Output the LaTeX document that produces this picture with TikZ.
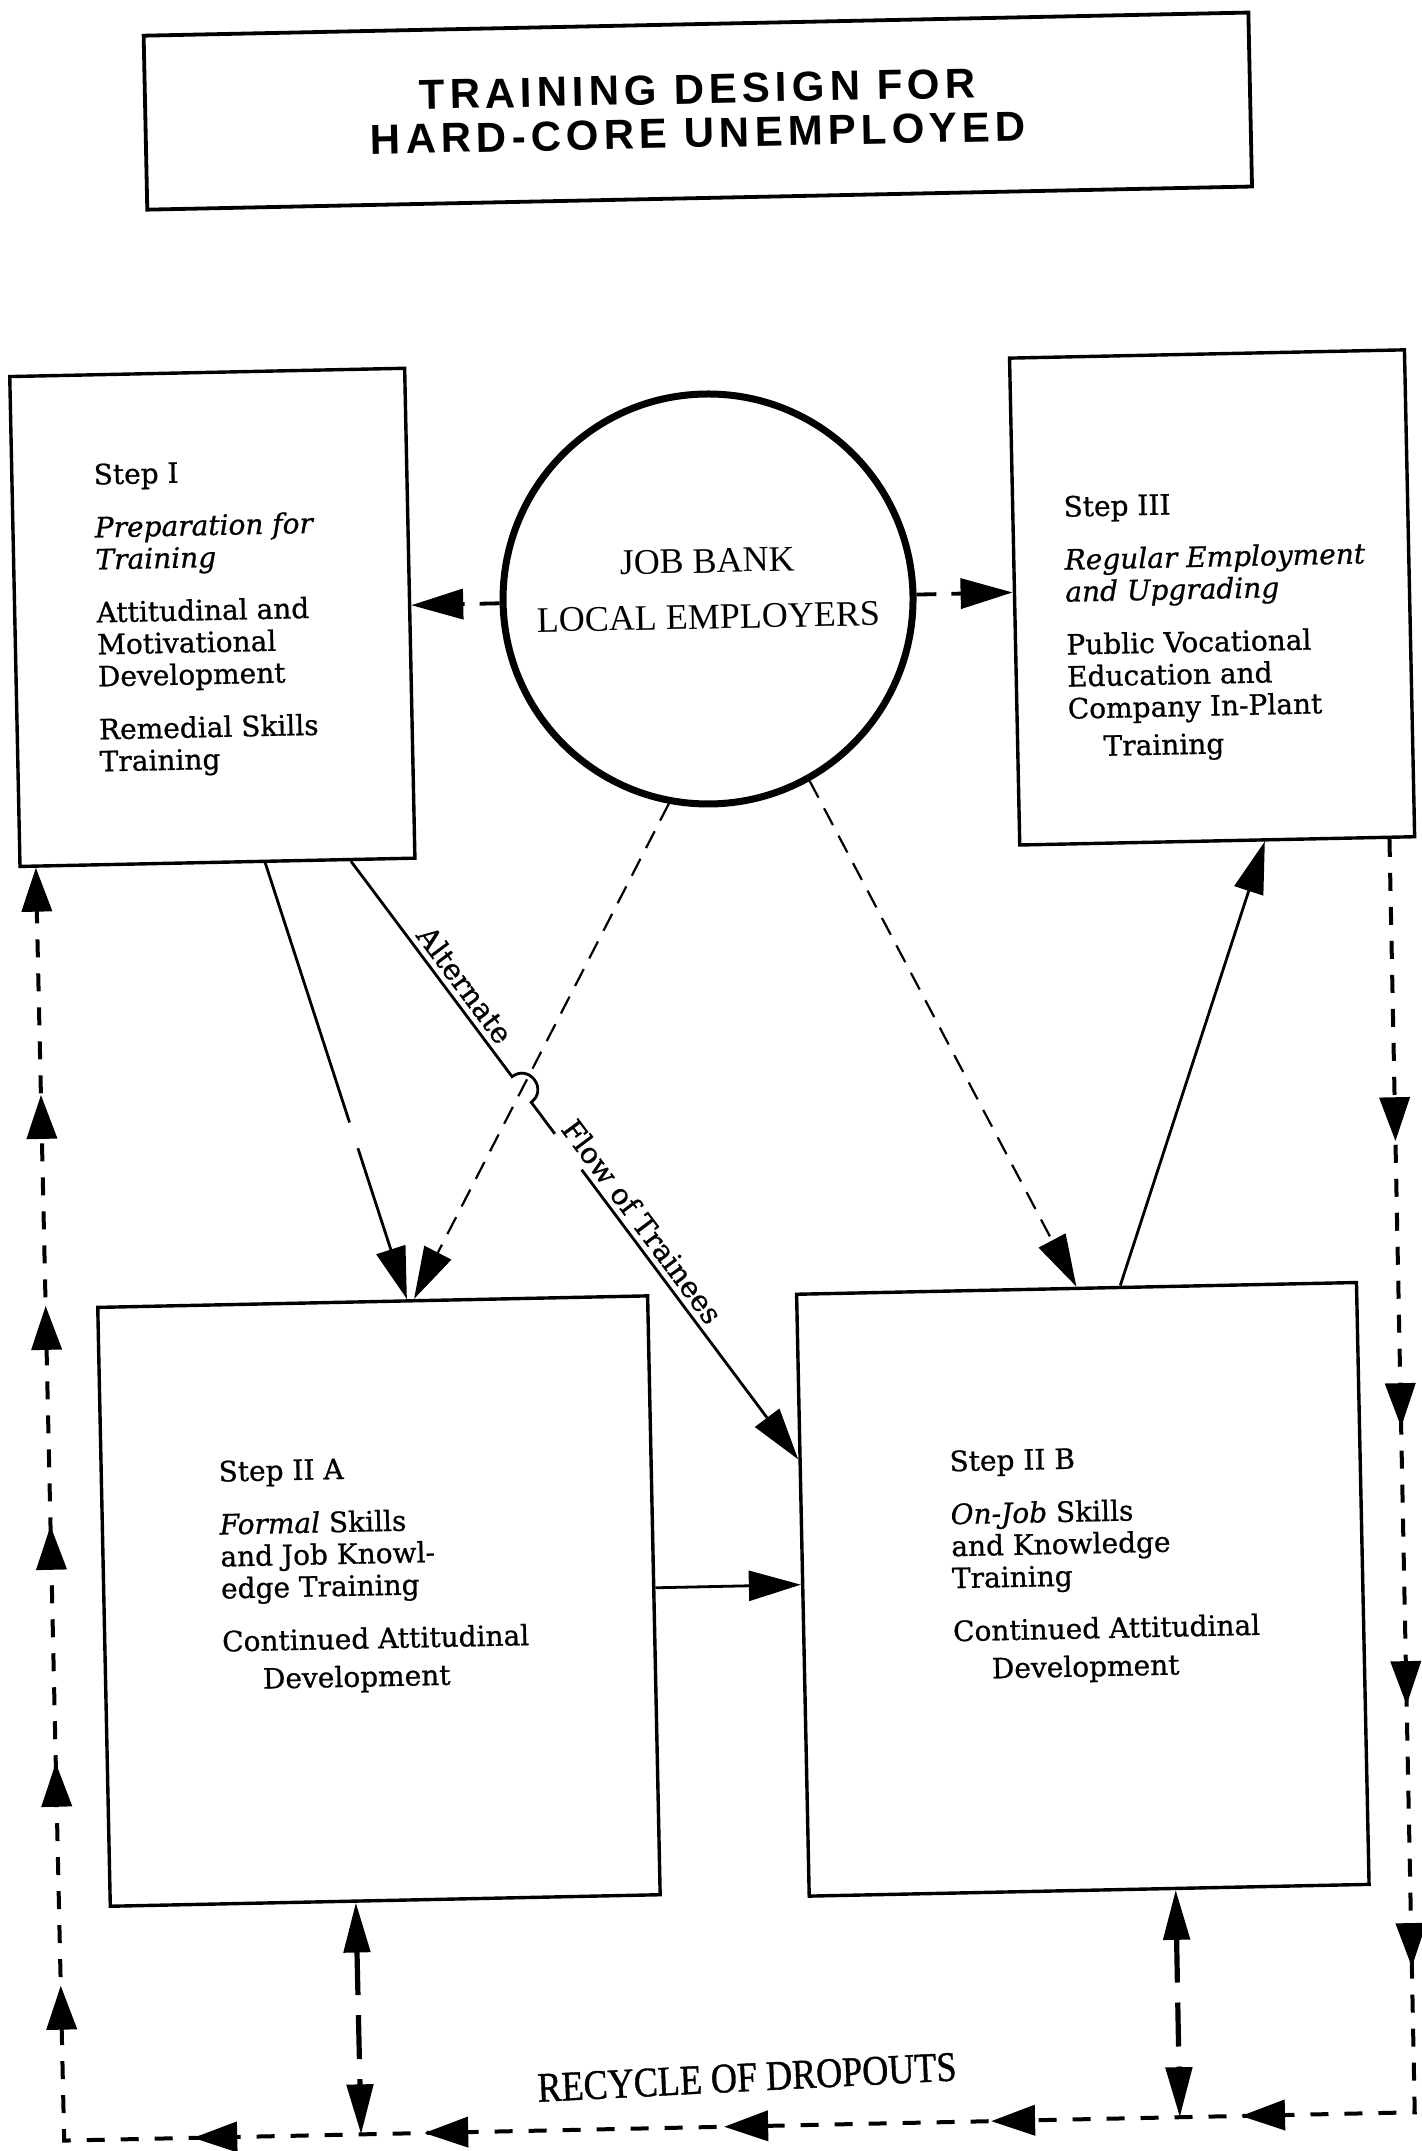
\documentclass[tikz,border=0pt]{standalone}
\usepackage{fontspec}
\setmainfont[FakeBold=0.8]{DejaVu Serif}
\newfontfamily\circfont{Liberation Serif}
\newfontfamily\recfont[FakeBold=1]{Liberation Serif}
\newfontfamily\headfont[LetterSpace=12]{Liberation Sans}
\usetikzlibrary{arrows.meta,calc,decorations.markings}
\tikzset{
  bigtip/.tip={Triangle[length=26pt,width=15pt]},
  looptip/.tip={Triangle[length=22pt,width=15pt]},
  droptip/.tip={Triangle[length=25pt,width=13pt]},
  stepbox/.style={draw, line width=1.7pt, rectangle, inner sep=0pt},
  boxtext/.style={anchor=north west, inner sep=0pt, align=left, font=\fontsize{14pt}{16pt}\selectfont},
  solidarrow/.style={line width=1.4pt, -{bigtip}},
  thindash/.style={line width=1.1pt, dash pattern=on 9.5pt off 6pt, -{bigtip}},
  thickdash/.style={line width=1.9pt, dash pattern=on 10pt off 7.5pt, -{bigtip}},
  loopline/.style={line width=2pt, dash pattern=on 9pt off 8pt, -{looptip}},
  dropline/.style={line width=2.6pt, dash pattern=on 22pt off 10pt, {droptip}-{droptip}},
  looparrows/.style={postaction={decorate}, decoration={markings,
     mark=at position 151.25pt with {\arrow{looptip}},
     mark=at position 294.25pt with {\arrow{looptip}},
     mark=at position 433.25pt with {\arrow{looptip}},
     mark=at position 564.25pt with {\arrow{looptip}},
     mark=at position 723.75pt with {\arrow{looptip}},
     mark=at position 848.75pt with {\arrow{looptip}},
     mark=at position 982.25pt with {\arrow{looptip}},
     mark=at position 1132.25pt with {\arrow{looptip}},
     mark=at position 1247.75pt with {\arrow{looptip}},
     mark=at position 1389.75pt with {\arrow{looptip}},
     mark=at position 1501.25pt with {\arrow{looptip}},
     mark=at position 1619.75pt with {\arrow{looptip}},
     mark=at position 1729.75pt with {\arrow{looptip}},
     mark=at position 1835.25pt with {\arrow{looptip}}}},
  flowlabel/.style={font=\fontsize{14.5pt}{16pt}\selectfont, sloped, inner sep=0pt, above=3pt},
}
\begin{document}
\begin{tikzpicture}[x=0.5pt,y=-0.5pt]
\path[use as bounding box, fill=white] (0,0) rectangle (1422,2151);
\begin{scope}[rotate around={1.2:(711,1075)}, transform shape]
% title
\node[stepbox, line width=1.9pt, minimum width=552.5pt, minimum height=87pt,
      font={\headfont\bfseries\fontsize{21pt}{22pt}\selectfont}, align=center]
      (title) at (718,111) {TRAINING DESIGN FOR\\HARD-CORE UNEMPLOYED};
% boxes
\node[stepbox, minimum width=197.5pt, minimum height=245pt] (s1) at (222,607) {};
\node[stepbox, minimum width=197.5pt, minimum height=243.5pt] (s3) at (1222,608) {};
\node[stepbox, minimum width=275pt, minimum height=299.5pt] (s2a) at (368,1594) {};
\node[stepbox, minimum width=280pt, minimum height=301pt] (s2b) at (1072,1597) {};
\node[circle, draw, line width=3.5pt, minimum size=205pt, inner sep=0pt] (circ) at (718,599) {};
% texts
\node[boxtext] (s1t) at (106,450.5) {Step I\\[10.5pt]\textit{Preparation for}\\\textit{Training}\\[10.5pt]Attitudinal and\\Motivational\\Development\\[10.5pt]Remedial Skills\\Training};
\node[boxtext] (s3t) at (1075,503) {Step III\\[10.5pt]\textit{Regular Employment}\\\textit{and Upgrading}\\[10.5pt]Public Vocational\\Education and\\Company In-Plant\\[3pt]\hspace*{17.5pt}Training};
\node[boxtext] (s2at) at (210,1450) {Step II A\\[10.5pt]\textit{Formal} Skills\\and Job Knowl-\\edge Training\\[10.5pt]Continued Attitudinal\\[3pt]\hspace*{20pt}Development};
\node[boxtext] (s2bt) at (941,1455) {Step II B\\[10.5pt]\textit{On-Job} Skills\\and Knowledge\\Training\\[10.5pt]Continued Attitudinal\\[3pt]\hspace*{19pt}Development};
\node[font={\circfont\fontsize{18pt}{28pt}\selectfont}, align=center, inner sep=0pt] (jb) at (718,589) {JOB BANK\\LOCAL EMPLOYERS};
\node[font={\recfont\fontsize{21pt}{22pt}\selectfont}, xscale=0.86, rotate=1.5, inner sep=0pt] (rec) at (726,2078) {RECYCLE OF DROPOUTS};
% anchor points
\coordinate (e1) at ($(s1.north east)!0.484!(s1.south east)$);
\coordinate (w3) at ($(s3.north west)!0.4815!(s3.south west)$);
\coordinate (a1) at ($(s1.south west)!0.62!(s1.south east)$);
\coordinate (a2) at ($(s2a.north west)!0.562!(s2a.north east)$);
\coordinate (cA) at (circ.-102);
\coordinate (tA) at ($(s2a.north west)!0.575!(s2a.north east)$);
\coordinate (cB) at (circ.-62.3);
\coordinate (tB) at ($(s2b.north west)!0.5!(s2b.north east)$);
\coordinate (u1) at ($(s2b.north west)!0.578!(s2b.north east)$);
\coordinate (u2) at ($(s3.south west)!0.62!(s3.south east)$);
\coordinate (h1) at ($(s2a.north east)!0.488!(s2a.south east)$);
\coordinate (h2) at ($(s2b.north west)!0.483!(s2b.south west)$);
\coordinate (altS) at ($(s1.south west)!0.835!(s1.south east)$);
\coordinate (altE) at ($(s2b.north west)!0.276!(s2b.south west)$);
\coordinate (X) at (intersection of altS--altE and cA--tA);
\coordinate (hA) at ($(X)!8pt!(altS)$);
\coordinate (hB) at ($(X)!8pt!(altE)$);
\coordinate (hA1) at ($(hA)!10.67pt!90:(X)$);
\coordinate (hB1) at ($(hB)!10.67pt!-90:(X)$);
\coordinate (g1) at ($(altS)!0.456!(altE)$);
\coordinate (g2) at ($(altS)!0.516!(altE)$);
\coordinate (L1) at ($(s3.south west)!0.933!(s3.south east)$);
\coordinate (BR) at (1393,2127);
\coordinate (BL) at (42,2127);
\coordinate (L4) at ($(s1.south west)!0.044!(s1.south east)$);
\coordinate (dAt) at ($(s2a.south west)!0.447!(s2a.south east)$);
\coordinate (dAb) at (339,2127);
\coordinate (dBt) at ($(s2b.south west)!0.654!(s2b.south east)$);
\coordinate (dBb) at (1158,2127);
% connectors
\draw[thickdash] (circ.west) -- (e1);
\draw[thickdash] (circ.east) -- (w3);
\draw[solidarrow, dash pattern=on 136.5pt off 13.5pt on 300pt off 1pt] (a1) -- (a2);
\draw[thindash] (cA) -- (tA);
\draw[thindash] (cB) -- (tB);
\draw[solidarrow] (u1) -- (u2);
\draw[solidarrow] (h1) -- (h2);
\draw[solidarrow] (altS) -- (hA) .. controls (hA1) and (hB1) .. (hB) -- (g1) (g2) -- (altE);
\path (altS) -- (altE)
   node[flowlabel, pos=0.224] (altlab) {Alternate}
   node[flowlabel, pos=0.62] (flowlab) {Flow of Trainees};
\draw[loopline, looparrows] (L1) -- (BR) -- (BL) -- (L4);
\draw[dropline] (dAt) -- (dAb);
\draw[dropline] (dBt) -- (dBb);
\end{scope}
\end{tikzpicture}
\end{document}
